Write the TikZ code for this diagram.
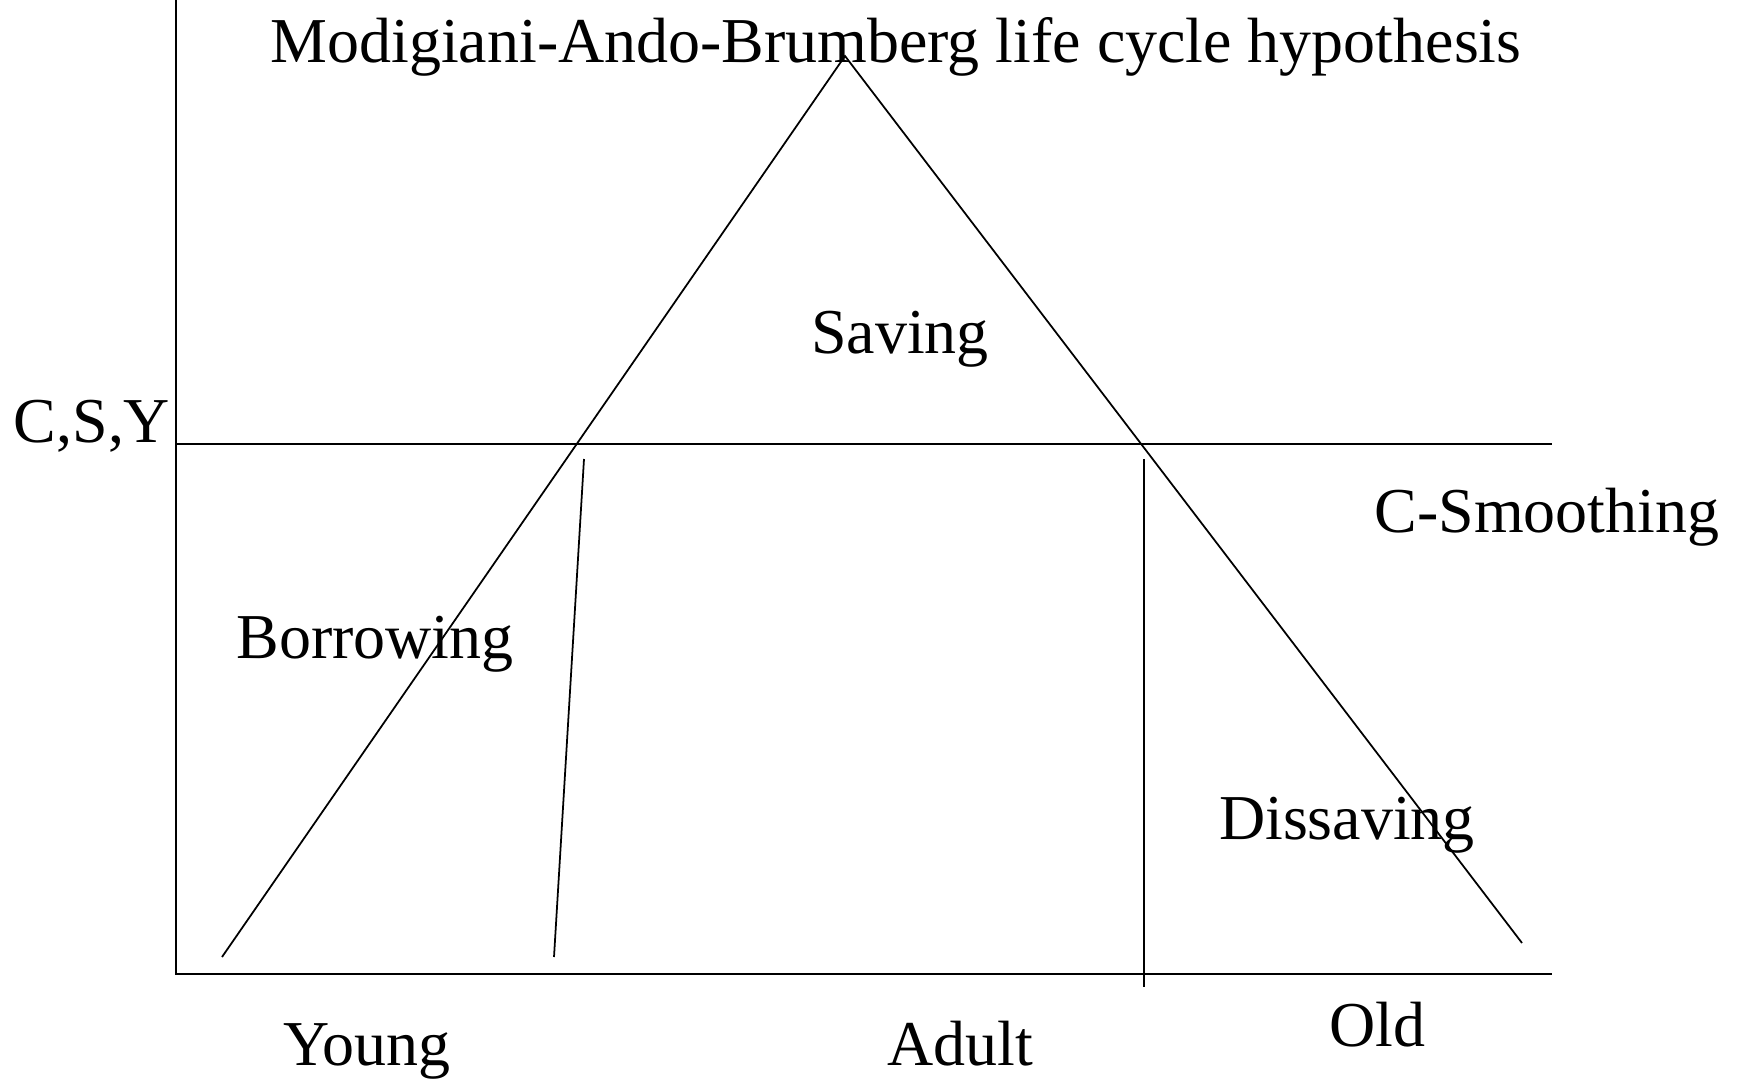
\documentclass[tikz,border=0pt]{standalone}
\usepackage{fontspec}
\setmainfont{Liberation Serif}
\usetikzlibrary{positioning}

\begin{document}
\begin{tikzpicture}[x=0.02cm, y=-0.02cm, line width=1pt]
\tikzstyle{every node} = [inner sep=0pt, anchor=base, font=\fontsize{36.4}{43}\selectfont]
\useasboundingbox (0,0) rectangle (1743,1081);
% axes
\coordinate (top) at (176,0);
\coordinate (origin) at (176,974);
\coordinate (end) at (1552,974);
\coordinate (csyleft) at (176,444);
\coordinate (csyright) at (1552,444);
% life cycle
\coordinate (apex) at (845,56);
\coordinate (youngfoot) at (222,957);
\coordinate (oldfoot) at (1522,943);
\coordinate (splittop) at (584,459);
\coordinate (splitbot) at (554,957);
\coordinate (retiretop) at (1144,459);
\coordinate (retirebot) at (1144,987);
\draw (top) -- (origin) -- (end);
\draw (csyleft) -- (csyright);
\draw (youngfoot) -- (apex) -- (oldfoot);
\draw (splittop) -- (splitbot);
\draw (retiretop) -- (retirebot);
% labels
\node (title) at (896,63) {Modigiani-Ando-Brumberg life cycle hypothesis};
\node (csy) at (92,442) {C,S,Y};
\node (saving) at (900,353) {Saving};
\node (smooth) at (1547,532) {C-Smoothing};
\node (borrow) at (375,658) {Borrowing};
\node (dissave) at (1347,839) {Dissaving};
\node (young) at (367,1065) {Young};
\node (adult) at (960,1065) {Adult};
\node (old) at (1377,1046) {Old};
\end{tikzpicture}
\end{document}
